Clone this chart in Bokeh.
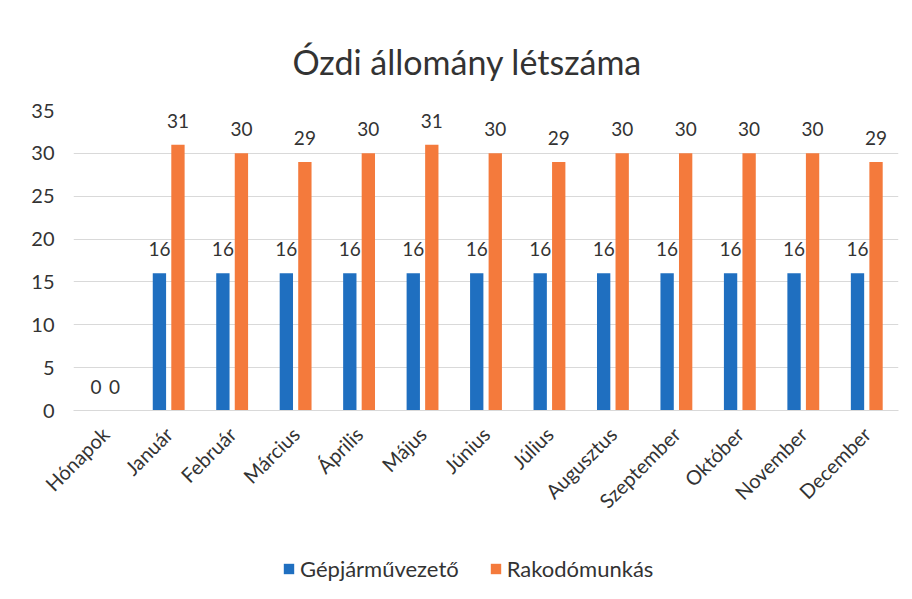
import math
from bokeh.plotting import figure
from bokeh.layouts import column
from bokeh.models import ColumnDataSource, FactorRange, Legend, LegendItem, Range1d
from bokeh.transform import dodge
from bokeh.core.properties import value
from bokeh.embed import file_html
from bokeh.resources import INLINE

months = ["Hónapok", "Január", "Február", "Március", "Április", "Május", "Június",
          "Július", "Augusztus", "Szeptember", "Október", "November", "December"]
gepjarmuvezeto = [0, 16, 16, 16, 16, 16, 16, 16, 16, 16, 16, 16, 16]
rakodomunkas = [0, 31, 30, 29, 30, 31, 30, 29, 30, 30, 30, 30, 29]
series_names = ["Gépjárművezető", "Rakodómunkás"]
colors = ["#1f6fc0", "#f47a3c"]
title_text = "Ózdi állomány létszáma"
FONT = "Lato"
TXT = "#333333"

src = ColumnDataSource(dict(
    m=months,
    g=gepjarmuvezeto,
    r=rakodomunkas,
    gt=[str(v) for v in gepjarmuvezeto],
    rt=[str(v) for v in rakodomunkas],
))

p = figure(frame_width=825, frame_height=300, x_range=FactorRange(*months), y_range=(0, 35),
           output_backend="svg", toolbar_location=None,
           min_border_left=73, min_border_right=6, min_border_top=110, min_border_bottom=135)

p.title.text = title_text
p.title.align = "left"
p.title.offset = 219
p.title.text_font = FONT
p.title.text_font_size = "34px"
p.title.text_font_style = "normal"
p.title.text_color = TXT
p.title.standoff = 58

p.outline_line_color = None
p.xgrid.grid_line_color = None
p.ygrid.grid_line_color = "#d9d9d9"
p.ygrid.grid_line_width = 1

p.yaxis.ticker = [0, 5, 10, 15, 20, 25, 30, 35]
p.yaxis.axis_line_color = None
p.yaxis.major_tick_line_color = None
p.yaxis.minor_tick_line_color = None
p.yaxis.major_label_text_font = FONT
p.yaxis.major_label_text_font_size = "20px"
p.yaxis.major_label_text_color = TXT
p.yaxis.major_label_standoff = 13

p.xaxis.axis_line_color = "#d9d9d9"
p.xaxis.major_tick_line_color = None
p.xaxis.major_label_orientation = math.pi / 4
p.xaxis.major_label_text_font = FONT
p.xaxis.major_label_text_font_size = "20px"
p.xaxis.major_label_text_color = TXT
p.xaxis.major_label_standoff = 14

off = 0.146
bw = 0.21
p.vbar(x=dodge("m", -off, range=p.x_range), top="g", width=bw, source=src,
       fill_color=colors[0], line_color=None)
p.vbar(x=dodge("m", off, range=p.x_range), top="r", width=bw, source=src,
       fill_color=colors[1], line_color=None)

p.text(x=dodge("m", -off, range=p.x_range), y="g", text="gt", source=src,
       text_font=value(FONT), text_font_size="19px", text_color=TXT,
       text_align="center", text_baseline="bottom", y_offset=-17)
p.text(x=dodge("m", off, range=p.x_range), y="r", text="rt", source=src,
       text_font=value(FONT), text_font_size="19px", text_color=TXT,
       text_align="center", text_baseline="bottom", y_offset=-17)

# legend strip under the chart (its swatches come from off-screen glyphs)
lg = figure(width=904, height=54, x_range=Range1d(0, 1), y_range=Range1d(0, 1),
            output_backend="svg", toolbar_location=None,
            min_border_left=0, min_border_right=0, min_border_top=0, min_border_bottom=0)
lg.axis.visible = False
lg.grid.visible = False
lg.outline_line_color = None
hidden = ColumnDataSource(dict(x=[-10], y=[-10]))
r1 = lg.rect(x="x", y="y", width=0.1, height=0.1, source=hidden,
             fill_color=colors[0], line_color=None)
r2 = lg.rect(x="x", y="y", width=0.1, height=0.1, source=hidden,
             fill_color=colors[1], line_color=None)
legend = Legend(items=[LegendItem(label=series_names[0], renderers=[r1]),
                       LegendItem(label=series_names[1], renderers=[r2])],
                orientation="horizontal", location=(209, 17),
                label_text_font=FONT, label_text_font_size="22px",
                label_text_color=TXT, border_line_color=None,
                background_fill_alpha=0,
                glyph_width=13, glyph_height=13, spacing=30, label_standoff=5,
                margin=0, padding=0)
lg.add_layout(legend, "center")

layout = column(p, lg, spacing=0)
open("out.html", "w").write(file_html(layout, INLINE))
